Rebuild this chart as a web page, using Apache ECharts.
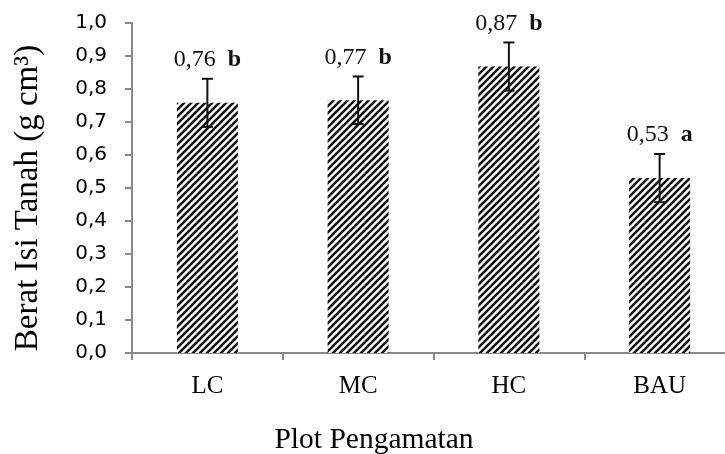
<!DOCTYPE html>
<html>
<head>
<meta charset="utf-8">
<script src="https://cdn.jsdelivr.net/npm/echarts@6/dist/echarts.min.js"></script>
<style>
html,body{margin:0;padding:0;background:#fff;}
#chart{width:725px;height:454px;}
</style>
</head>
<body>
<div id="chart"></div>
<script>
// ---- data ----
const categories = ['LC', 'MC', 'HC', 'BAU'];
const values = [0.758, 0.766, 0.868, 0.53];
const errors = [0.073, 0.072, 0.073, 0.073];
const letters = ['b', 'b', 'b', 'a'];
const yTicks = ['0,0','0,1','0,2','0,3','0,4','0,5','0,6','0,7','0,8','0,9','1,0'];
const yTitle = 'Berat Isi Tanah (g cm\u00B3)';
const xTitle = 'Plot Pengamatan';

// ---- stripe pattern ----
function makePattern() {
  const s = 7;
  const c = document.createElement('canvas');
  c.width = s; c.height = s;
  const g = c.getContext('2d');
  g.fillStyle = '#ffffff';
  g.fillRect(0, 0, s, s);
  g.strokeStyle = '#111111';
  g.lineWidth = 2.6;
  for (let k = -1; k <= 1; k++) {
    g.beginPath();
    g.moveTo(k * s - 1, s + 1);
    g.lineTo(k * s + s + 1, -1);
    g.stroke();
  }
  return c;
}

const serif = "'Liberation Serif', 'Times New Roman', serif";
const chart = echarts.init(document.getElementById('chart'), null, {renderer: 'canvas'});

const option = {
  animation: false,
  backgroundColor: '#ffffff',
  grid: {left: 132, top: 23, width: 603, bottom: 101, containLabel: false, outerBoundsMode: 'none'},
  xAxis: {
    type: 'category',
    data: categories,
    axisLine: {show: true, lineStyle: {color: '#898989', width: 2}},
    axisTick: {show: true, alignWithLabel: false, length: 7, lineStyle: {color: '#898989', width: 2}},
    axisLabel: {color: '#000', fontFamily: serif, fontSize: 25, margin: 21}
  },
  yAxis: {
    type: 'value',
    min: 0, max: 1, interval: 0.1,
    splitLine: {show: false},
    axisLine: {show: true, lineStyle: {color: '#898989', width: 2}},
    axisTick: {show: true, length: 7, lineStyle: {color: '#898989', width: 2}},
    axisLabel: {
      color: '#000', fontFamily: "'DejaVu Sans', sans-serif", fontSize: 20, margin: 25,
      padding: [5, 0, 0, 0],
      formatter: function (v) { return yTicks[Math.round(v * 10)]; }
    }
  },
  graphic: [
    {type: 'text', x: 28, y: 198, rotation: Math.PI / 2,
     style: {text: yTitle, fill: '#000', font: "33px " + serif, textAlign: 'center', textVerticalAlign: 'middle', align: 'center', verticalAlign: 'middle'}},
    {type: 'text', x: 374, y: 440,
     style: {text: xTitle, fill: '#000', font: "29.5px " + serif, textAlign: 'center', textVerticalAlign: 'middle', align: 'center', verticalAlign: 'middle'}}
  ],
  series: [
    {
      type: 'bar',
      data: values,
      barWidth: 61,
      itemStyle: {color: {image: makePattern(), repeat: 'repeat'}}
    },
    {
      type: 'custom',
      data: categories.map(function (c, i) { return [i, values[i], errors[i]]; }),
      z: 10,
      renderItem: function (params, api) {
        const i = api.value(0), v = api.value(1), e = api.value(2);
        const top = api.coord([i, v + e]);
        const bot = api.coord([i, v - e]);
        const hw = 5.5;
        const lbl = values[i].toFixed(2).replace('.', ',');
        const st = {stroke: '#111', lineWidth: 2};
        return {
          type: 'group',
          children: [
            {type: 'line', shape: {x1: top[0], y1: top[1], x2: bot[0], y2: bot[1]}, style: st},
            {type: 'line', shape: {x1: top[0] - hw, y1: top[1], x2: top[0] + hw, y2: top[1]}, style: st},
            {type: 'line', shape: {x1: bot[0] - hw, y1: bot[1], x2: bot[0] + hw, y2: bot[1]}, style: st},
            {type: 'text', x: top[0], y: top[1] - 7,
             style: {
               text: '{n|' + lbl + '}{n|  }{b|' + letters[i] + '}',
               textAlign: 'center', textVerticalAlign: 'bottom', align: 'center', verticalAlign: 'bottom',
               rich: {
                 n: {fontFamily: serif, fontSize: 24, fill: '#111', color: '#111'},
                 b: {fontFamily: serif, fontSize: 24, fontWeight: 'bold', fill: '#111', color: '#111'}
               }
             }}
          ]
        };
      }
    }
  ]
};
chart.setOption(option);
</script>
</body>
</html>
